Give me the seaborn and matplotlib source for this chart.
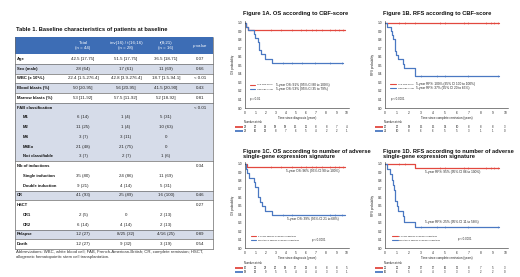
import numpy as np
import pandas as pd
import matplotlib
matplotlib.use("Agg")
import matplotlib.pyplot as plt
import matplotlib.transforms as mtrans
from matplotlib.patches import Rectangle
import seaborn as sns

sns.set_theme(style="white")
plt.rcParams['font.family'] = ['Liberation Sans', 'DejaVu Sans']
plt.rcParams['mathtext.fontset'] = 'custom'
plt.rcParams['mathtext.it'] = 'Liberation Sans:italic'
plt.rcParams['mathtext.rm'] = 'Liberation Sans'

# ---------------- data: table ----------------
table_title = "Table 1. Baseline characteristics of patients at baseline"
col_headers = ["Total\n(n = 44)", "inv(16) / t(16;16)\n(n = 28)", "t(8;21)\n(n = 16)", r"$\it{p}$ value"]
row_labels = ["Age", "Sex (male)", "WBC (x 10⁹/L)", "Blood blasts (%)", "Marrow blasts (%)",
              "FAB classification", "M1", "M2", "M4", "M4Eo", "Not classifiable",
              "Nb of inductions", "Single induction", "Double induction", "CR",
              "HSCT", "CR1", "CR2", "Relapse", "Death"]
col_total = ["42.5 [17-75]", "28 (64)", "22.4 [1.5-276.4]", "50 [20-95]", "53 [11-92]",
             "", "6 (14)", "11 (25)", "3 (7)", "21 (48)", "3 (7)",
             "", "35 (80)", "9 (21)", "41 (93)", "", "2 (5)", "6 (14)", "12 (27)", "12 (27)"]
col_inv16 = ["51.5 [17-75]", "17 (61)", "42.8 [3.9-276.4]", "56 [20-95]", "57.5 [11-92]",
             "", "1 (4)", "1 (4)", "3 (11)", "21 (75)", "2 (7)",
             "", "24 (86)", "4 (14)", "25 (89)", "", "0", "4 (14)", "8/25 (32)", "9 (32)"]
col_t821 = ["36.5 [18-71]", "11 (69)", "18.7 [1.5-94.1]", "41.5 [20-90]", "52 [18-92]",
            "", "5 (31)", "10 (63)", "0", "0", "1 (6)",
            "", "11 (69)", "5 (31)", "16 (100)", "", "2 (13)", "2 (13)", "4/16 (25)", "3 (19)"]
col_pval = ["0.07", "0.66", "< 0.01", "0.43", "0.81",
            "< 0.01", "", "", "", "", "",
            "0.34", "", "", "0.46", "0.27", "", "", "0.89", "0.54"]
row_groups = [[0], [1], [2], [3], [4], [5, 6, 7, 8, 9, 10], [11, 12, 13], [14], [15, 16, 17], [18], [19]]
shaded_groups = [1, 3, 5, 7, 9]
indented_rows = [6, 7, 8, 9, 10, 12, 13, 16, 17]
footnote = ["Abbreviations: WBC, white blood cell; FAB, French-American-British; CR, complete remission; HSCT,",
            "allogeneic hematopoietic stem cell transplantation."]

# ---------------- data: Kaplan-Meier panels ----------------
titles = ["Figure 1A. OS according to CBF-score",
          "Figure 1B. RFS according to CBF-score",
          "Figure 1C. OS according to number of adverse\nsingle-gene expression signature",
          "Figure 1D. RFS according to number of adverse\nsingle-gene expression signature"]
ylabels = ["OS probability", "RFS probability", "OS probability", "RFS probability"]
xlabels = ["Time since diagnosis (years)", "Time since complete remission (years)",
           "Time since diagnosis (years)", "Time since complete remission (years)"]

# 1A
a_red_t = [0, 0.1, 0.3, 9.9]
a_red_s = [1.0, 0.955, 0.91, 0.91]
a_red_c = [2.6, 3.5, 4.6, 5.5, 6.0, 6.6, 7.0, 7.6, 8.4, 8.9, 9.3, 9.7]
a_blue_t = [0, 0.1, 0.3, 0.9, 1.0, 1.3, 1.4, 1.6, 2.0, 2.7, 9.7]
a_blue_s = [1.0, 0.955, 0.91, 0.864, 0.818, 0.77, 0.68, 0.63, 0.58, 0.53, 0.53]
a_blue_c = [3.7, 4.6, 5.6, 6.9, 8.4, 9.6]
a_nar_red = [22, 20, 19, 18, 18, 15, 11, 8, 8, 7, 4]
a_nar_blue = [22, 16, 13, 8, 7, 6, 5, 4, 2, 2, 1]
# 1B
b_red_t = [0, 9.5]
b_red_s = [1.0, 1.0]
b_red_c = [1.2, 1.7, 2.5, 4.6, 5.0, 6.6, 6.9, 8.4, 8.8, 9.1, 9.4]
b_blue_t = [0, 0.15, 0.5, 0.6, 0.7, 0.8, 0.85, 0.95, 1.1, 1.5, 1.6, 2.5, 9.5]
b_blue_s = [1.0, 0.95, 0.90, 0.86, 0.81, 0.76, 0.67, 0.62, 0.57, 0.52, 0.47, 0.37, 0.37]
b_blue_c = [3.0, 4.3, 5.0, 6.9, 9.4]
b_nar_red = [20, 20, 18, 15, 15, 14, 10, 8, 8, 8, 3]
b_nar_blue = [21, 10, 8, 6, 6, 5, 5, 3, 1, 1, 0]
# 1C
c_red_t = [0, 0.15, 9.9]
c_red_s = [1.0, 0.96, 0.96]
c_red_c = [2.6, 3.5, 4.6, 5.5, 6.0, 6.6, 7.0, 7.6, 8.4, 8.9, 9.3, 9.7]
c_blue_t = [0, 0.05, 0.2, 0.4, 0.9, 1.0, 1.3, 1.5, 1.7, 2.0, 2.7, 9.9]
c_blue_s = [1.0, 0.94, 0.89, 0.83, 0.78, 0.72, 0.61, 0.55, 0.50, 0.44, 0.39, 0.39]
c_blue_c = [3.7, 4.6, 8.4, 8.9, 9.6]
c_nar_red = [26, 25, 23, 20, 18, 17, 13, 8, 8, 8, 5]
c_nar_blue = [18, 13, 9, 5, 5, 4, 4, 4, 3, 3, 1]
# 1D
d_red_t = [0, 2.5, 9.5]
d_red_s = [1.0, 0.95, 0.95]
d_red_c = [1.2, 1.7, 4.6, 5.0, 6.6, 6.9, 8.4, 8.8, 9.1, 9.4]
d_blue_t = [0, 0.2, 0.4, 0.6, 0.7, 0.75, 0.85, 1.0, 1.1, 1.5, 1.6, 2.5, 9.5]
d_blue_s = [1.0, 0.94, 0.88, 0.81, 0.75, 0.69, 0.56, 0.50, 0.44, 0.38, 0.31, 0.25, 0.25]
d_blue_c = [3.0, 4.3, 5.0, 6.9, 9.4]
d_nar_red = [25, 25, 22, 17, 17, 16, 12, 8, 7, 5, 3]
d_nar_blue = [16, 6, 5, 4, 4, 3, 3, 3, 2, 2, 0]

legend_a = ["Low CBF-score", "High CBF-score"]
legend_b = ["Low CBF-score", "High CBF-score"]
legend_c = ["2 or less adverse single-gene signatures", "More than 2 adverse single-gene signatures"]
legend_d = legend_c
est_a = ["5-year OS: 91% (95% CI 80 to 100%)", "5-year OS: 53% (95% CI 35 to 79%)"]
est_b = ["5-year RFS: 100% (95% CI 100 to 100%)", "5-year RFS: 37% (95% CI 20 to 65%)"]
est_c = ["5-year OS: 96% (95% CI 90 to 100%)", "5-year OS: 39% (95% CI 21 to 68%)"]
est_d = ["5-year RFS: 95% (95% CI 86 to 100%)", "5-year RFS: 25% (95% CI 11 to 58%)"]
pvals = ["p = 0.01", "p < 0.0001", "p < 0.0001", "p < 0.0001"]
nar_title = "Number at risk"
time_ticks = list(range(0, 11))

RED = "#e2483f"
BLUE = "#4a78c2"

# ---------------- figure ----------------
W, H = 520, 277
fig = plt.figure(figsize=(W / 100, H / 100), dpi=100)
renderer = fig.canvas.get_renderer()


def fit_fs(text, target_px, **kw):
    t = fig.text(0, 0, text, fontsize=10, **kw)
    w = t.get_window_extent(renderer).width
    t.remove()
    return 10.0 * target_px / w


FS_TTITLE = fit_fs(table_title, 151, fontweight='bold')
FS_FOOT = fit_fs(footnote[0], 190)
FS_LAB = fit_fs(row_labels[4], 35, fontweight='bold')
FS_VAL = fit_fs(col_total[2], 31)
FS_HDR = fit_fs("inv(16) / t(16;16)", 32)
FS_KTITLE = fit_fs(titles[0], 105, fontweight='bold')
FS_XLAB = fit_fs(xlabels[0], 38)
FS_EST = fit_fs(est_a[0], 55)
FS_LEGAB = fit_fs(legend_a[1], 16)
FS_LEG = fit_fs(legend_c[0], 38)
FS_P = fit_fs(pvals[1], 13)
FS_NAR = fit_fs(nar_title, 18)
FS_TICK = FS_NAR * 1.2

ov = fig.add_axes([0, 0, 1, 1])
ov.set_xlim(0, W)
ov.set_ylim(H, 0)
ov.axis('off')

# ----- table -----
TX0, TX1 = 15, 213
HY0, HY1 = 37, 54
RH = 9.75
col_x = [83, 126, 166, 200]
lab_x, ind_x = 17, 23
HDR = "#3d6db5"
SHADE = "#d6dce9"
EDGE = "#6b6b6b"

ov.text(TX0 + 1, 30, table_title, fontsize=FS_TTITLE, fontweight='bold', va='center', ha='left', color='#111')
ov.add_patch(Rectangle((TX0, HY0), TX1 - TX0, HY1 - HY0, color=HDR, lw=0))
for cx, h in zip(col_x, col_headers):
    ov.text(cx, (HY0 + HY1) / 2, h, fontsize=FS_HDR, color='white', ha='center', va='center', linespacing=1.5)

for gi, grp in enumerate(row_groups):
    gy0 = HY1 + grp[0] * RH
    gy1 = HY1 + (grp[-1] + 1) * RH
    if gi in shaded_groups:
        ov.add_patch(Rectangle((TX0, gy0), TX1 - TX0, gy1 - gy0, color=SHADE, lw=0))
    ov.plot([TX0, TX1], [gy1, gy1], color=EDGE, lw=0.5)
ov.plot([TX0, TX0], [HY0, HY1 + len(row_labels) * RH], color=EDGE, lw=0.5)
ov.plot([TX1, TX1], [HY0, HY1 + len(row_labels) * RH], color=EDGE, lw=0.5)

for i, lab in enumerate(row_labels):
    yc = HY1 + (i + 0.5) * RH
    ov.text(ind_x if i in indented_rows else lab_x, yc, lab, fontsize=FS_LAB, fontweight='bold',
            ha='left', va='center', color='#111')
    for cx, vals in zip(col_x, [col_total, col_inv16, col_t821, col_pval]):
        if vals[i]:
            ov.text(cx, yc, vals[i], fontsize=FS_VAL, ha='center', va='center', color='#222')
ov.text(TX0 + 1, HY1 + len(row_labels) * RH + 1.5, "\n".join(footnote), fontsize=FS_FOOT, ha='left', va='top',
        color='#333', linespacing=1.3)

# ----- KM panels -----
def px_axes(x0, y0, x1, y1):
    return fig.add_axes([x0 / W, 1 - y1 / H, (x1 - x0) / W, (y1 - y0) / H])


def surv_at(t_arr, s_arr, tc):
    idx = np.searchsorted(np.asarray(t_arr), np.asarray(tc), side='right') - 1
    return np.asarray(s_arr)[idx]


def km_panel(box, title, ylabel, xlabel, curves, nars, legend_labels, est_labels, pval,
             legend_y, leg_x, p_pos, est_pos, nar_y):
    x0, y0, x1, y1 = box
    ax = px_axes(x0, y0, x1, y1)
    for (t, s, c, col) in curves:
        df = pd.DataFrame({'t': t, 's': s})
        sns.lineplot(data=df, x='t', y='s', drawstyle='steps-post', color=col, lw=0.9,
                     ax=ax, estimator=None, sort=False, legend=False)
        cdf = pd.DataFrame({'t': c, 's': surv_at(t, s, c)})
        sns.scatterplot(data=cdf, x='t', y='s', marker='|', s=4, color=col, linewidth=0.4,
                        ax=ax, legend=False)
    ax.set_xlim(0, 10.25)
    ax.set_ylim(0, 1.02)
    ax.set_xticks(time_ticks)
    ax.set_yticks(np.round(np.arange(0, 1.01, 0.1), 1))
    ax.set_yticklabels([f"{v:.1f}" for v in np.arange(0, 1.01, 0.1)])
    ax.tick_params(labelsize=FS_TICK, length=1.2, width=0.35, pad=0.8, colors='#222')
    for sp in ['top', 'right']:
        ax.spines[sp].set_visible(False)
    for sp in ['left', 'bottom']:
        ax.spines[sp].set_linewidth(0.4)
        ax.spines[sp].set_color('#222')
    ax.set_xlabel(xlabel, fontsize=FS_XLAB, labelpad=0.8, color='#222')
    ax.set_ylabel(ylabel, fontsize=FS_XLAB, labelpad=2.0, color='#222')
    fig.text((x0 - 2) / W, 1 - (y0 - 8) / H, title, fontsize=FS_KTITLE, fontweight='bold',
             ha='left', va='center', linespacing=1.15, color='#111')
    cols = [RED, BLUE]
    for k in range(2):
        ly = legend_y[k]
        ax.plot([leg_x, leg_x + 0.5], [ly, ly], color=cols[k], lw=0.8)
        if isinstance(est_pos, float):
            ax.text(leg_x + 0.65, ly, legend_labels[k], fontsize=FS_LEGAB, va='center', ha='left', color='#222')
            ax.text(est_pos, ly, est_labels[k], fontsize=FS_EST, va='center', ha='left', color='#222')
        else:
            ax.text(leg_x + 0.65, ly, legend_labels[k], fontsize=FS_LEG, va='center', ha='left', color='#222')
            ax.text(est_pos[k][0], est_pos[k][1], est_labels[k], fontsize=FS_EST, va='center',
                    ha='left', color='#222')
    ax.text(p_pos[0], p_pos[1], pval, fontsize=FS_P, va='center', ha='left', color='#222')
    tr = mtrans.blended_transform_factory(ax.transData, ov.transData)
    ov.text(x0 - 1, nar_y[0], nar_title, fontsize=FS_NAR, ha='left', va='center', color='#222')
    for k, nar in enumerate(nars):
        yy = nar_y[1 + k]
        ov.plot([x0 - 10, x0 - 2], [yy, yy], color=cols[k], lw=1.3, solid_capstyle='butt')
        for tt, n in zip(time_ticks, nar):
            ov.text(tt, yy, str(n), transform=tr, fontsize=FS_NAR, ha='center', va='center', color='#222')
    return ax


km_panel((245, 21, 349, 108), titles[0], ylabels[0], xlabels[0],
         [(a_red_t, a_red_s, a_red_c, RED), (a_blue_t, a_blue_s, a_blue_c, BLUE)],
         [a_nar_red, a_nar_blue],
         legend_a, est_a, pvals[0], [0.27, 0.22], 0.5, (0.5, 0.1), 3.05, [122, 127, 131])
km_panel((385, 21, 508, 108), titles[1], ylabels[1], xlabels[1],
         [(b_red_t, b_red_s, b_red_c, RED), (b_blue_t, b_blue_s, b_blue_c, BLUE)],
         [b_nar_red, b_nar_blue],
         legend_b, est_b, pvals[1], [0.28, 0.23], 0.4, (0.5, 0.11), 2.6, [122, 127, 131])
km_panel((245, 162, 349, 248), titles[2], ylabels[2], xlabels[2],
         [(c_red_t, c_red_s, c_red_c, RED), (c_blue_t, c_blue_s, c_blue_c, BLUE)],
         [c_nar_red, c_nar_blue],
         legend_c, est_c, pvals[2], [0.14, 0.09], 0.6, (6.6, 0.09),
         [(4.0, 0.91), (4.1, 0.34)], [263, 268, 272])
km_panel((385, 162, 508, 248), titles[3], ylabels[3], xlabels[3],
         [(d_red_t, d_red_s, d_red_c, RED), (d_blue_t, d_blue_s, d_blue_c, BLUE)],
         [d_nar_red, d_nar_blue],
         legend_d, est_d, pvals[3], [0.14, 0.09], 0.55, (6.1, 0.11),
         [(3.3, 0.90), (3.3, 0.31)], [263, 268, 272])

fig.savefig("out.png", dpi=100, facecolor='white')
